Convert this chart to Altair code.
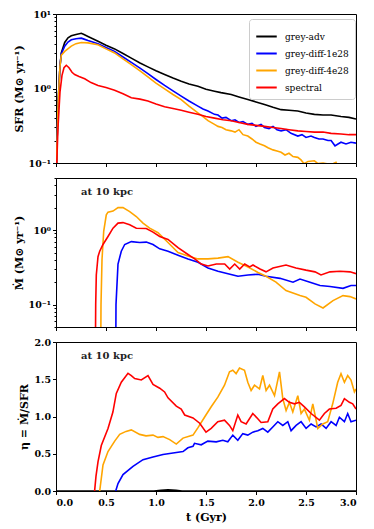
import altair as alt
import pandas as pd

SERIES = ["grey-adv", "grey-diff-1e28", "grey-diff-4e28", "spectral"]
COLORS = ["#000000", "#0000ff", "#ffa500", "#ff0000"]
ANNOT = ["at 10 kpc"]

# ---------------- panel 1 : SFR ----------------
sfr_adv_t = [0, 0.02, 0.04, 0.053, 0.087, 0.12, 0.153, 0.2, 0.253, 0.28, 0.32, 0.42, 0.5, 0.586, 0.67, 0.753, 0.84, 0.919, 1.0, 1.086, 1.17, 1.252, 1.33, 1.419, 1.5, 1.585, 1.65, 1.752, 1.83, 1.918, 2.0, 2.085, 2.17, 2.251, 2.33, 2.418, 2.5, 2.584, 2.67, 2.751, 2.85, 2.93, 3.0]
sfr_adv_v = [0.05, 0.6, 2.0, 3.0, 4.15, 4.8, 5.1, 5.3, 5.5, 5.3, 5.0, 4.3, 3.8, 3.4, 2.95, 2.56, 2.2, 1.95, 1.73, 1.54, 1.38, 1.25, 1.15, 1.07, 0.98, 0.92, 0.88, 0.83, 0.77, 0.71, 0.66, 0.61, 0.56, 0.52, 0.51, 0.50, 0.47, 0.45, 0.44, 0.44, 0.42, 0.41, 0.39]

sfr_d1_t = [0, 0.02, 0.04, 0.053, 0.087, 0.12, 0.153, 0.2, 0.253, 0.28, 0.32, 0.42, 0.5, 0.586, 0.67, 0.753, 0.84, 0.919, 1.0, 1.086, 1.17, 1.252, 1.33, 1.419, 1.47, 1.52, 1.585, 1.62, 1.66, 1.70, 1.752, 1.79, 1.83, 1.87, 1.918, 1.96, 2.0, 2.05, 2.085, 2.13, 2.17, 2.21, 2.251, 2.3, 2.35, 2.418, 2.46, 2.5, 2.55, 2.584, 2.63, 2.67, 2.72, 2.751, 2.79, 2.82, 2.85, 2.9, 2.95, 3.0]
sfr_d1_v = [0.05, 0.6, 2.0, 2.9, 3.7, 4.2, 4.5, 4.65, 4.74, 4.6, 4.4, 4.0, 3.55, 3.15, 2.65, 2.24, 1.88, 1.58, 1.32, 1.1, 0.93, 0.79, 0.68, 0.58, 0.53, 0.50, 0.45, 0.44, 0.40, 0.41, 0.37, 0.38, 0.35, 0.36, 0.33, 0.34, 0.31, 0.33, 0.30, 0.29, 0.31, 0.28, 0.27, 0.28, 0.25, 0.23, 0.24, 0.22, 0.23, 0.22, 0.21, 0.21, 0.20, 0.20, 0.17, 0.18, 0.19, 0.18, 0.19, 0.185]

sfr_d4_t = [0, 0.02, 0.04, 0.053, 0.087, 0.153, 0.2, 0.253, 0.32, 0.42, 0.5, 0.586, 0.67, 0.753, 0.84, 0.919, 1.0, 1.086, 1.17, 1.252, 1.33, 1.419, 1.47, 1.52, 1.585, 1.62, 1.66, 1.70, 1.752, 1.79, 1.83, 1.87, 1.918, 1.96, 2.0, 2.04, 2.085, 2.12, 2.17, 2.21, 2.251, 2.29, 2.33, 2.37, 2.418, 2.45, 2.48, 2.52, 2.584, 2.62, 2.67, 2.72, 2.751, 2.78, 2.8, 2.82, 2.9, 3.0]
sfr_d4_v = [0.05, 0.6, 2.0, 2.8, 3.15, 3.7, 4.0, 4.15, 4.1, 3.86, 3.4, 3.0, 2.5, 2.09, 1.72, 1.43, 1.18, 0.99, 0.83, 0.71, 0.58, 0.47, 0.42, 0.37, 0.33, 0.31, 0.30, 0.28, 0.27, 0.26, 0.28, 0.24, 0.23, 0.21, 0.19, 0.18, 0.17, 0.16, 0.15, 0.145, 0.139, 0.128, 0.135, 0.122, 0.119, 0.11, 0.098, 0.105, 0.107, 0.098, 0.10, 0.097, 0.095, 0.099, 0.102, 0.09, 0.08, 0.07]

sfr_sp_t = [0, 0.02, 0.04, 0.06, 0.08, 0.103, 0.13, 0.16, 0.187, 0.23, 0.287, 0.35, 0.42, 0.5, 0.586, 0.67, 0.753, 0.84, 0.919, 1.0, 1.086, 1.17, 1.252, 1.33, 1.419, 1.5, 1.585, 1.67, 1.752, 1.83, 1.918, 2.0, 2.085, 2.17, 2.251, 2.33, 2.418, 2.5, 2.584, 2.67, 2.751, 2.85, 2.93, 3.0]
sfr_sp_v = [0.05, 0.3, 0.9, 1.5, 1.9, 2.05, 1.9, 1.65, 1.54, 1.45, 1.35, 1.2, 1.1, 1.03, 0.95, 0.85, 0.75, 0.72, 0.68, 0.62, 0.57, 0.54, 0.51, 0.48, 0.45, 0.42, 0.40, 0.38, 0.37, 0.35, 0.33, 0.32, 0.31, 0.30, 0.29, 0.28, 0.27, 0.265, 0.26, 0.26, 0.25, 0.245, 0.24, 0.24]

# ---------------- panel 2 : Mdot at 10 kpc ----------------
md_d1_t = [0.596, 0.6, 0.62, 0.653, 0.687, 0.753, 0.837, 0.903, 0.97, 1.037, 1.12, 1.22, 1.32, 1.42, 1.52, 1.62, 1.72, 1.82, 1.92, 2.02, 2.10, 2.24, 2.37, 2.44, 2.54, 2.64, 2.74, 2.87, 2.95, 3.0]
md_d1_v = [0.01, 0.1, 0.35, 0.52, 0.64, 0.70, 0.68, 0.69, 0.64, 0.56, 0.52, 0.46, 0.41, 0.37, 0.31, 0.28, 0.26, 0.24, 0.25, 0.255, 0.24, 0.225, 0.20, 0.22, 0.20, 0.18, 0.175, 0.165, 0.18, 0.18]

md_d4_t = [0.446, 0.45, 0.46, 0.477, 0.503, 0.52, 0.57, 0.62, 0.67, 0.737, 0.803, 0.87, 0.937, 1.02, 1.12, 1.22, 1.32, 1.42, 1.52, 1.62, 1.72, 1.82, 1.92, 2.02, 2.10, 2.20, 2.30, 2.44, 2.50, 2.59, 2.67, 2.77, 2.87, 2.94, 3.0]
md_d4_v = [0.01, 0.1, 0.4, 0.96, 1.6, 1.74, 1.8, 2.0, 2.0, 1.77, 1.52, 1.24, 1.06, 0.92, 0.68, 0.50, 0.45, 0.41, 0.41, 0.42, 0.44, 0.37, 0.32, 0.27, 0.24, 0.20, 0.154, 0.132, 0.125, 0.102, 0.090, 0.113, 0.132, 0.128, 0.119]

md_sp_t = [0.392, 0.397, 0.403, 0.42, 0.437, 0.47, 0.52, 0.57, 0.62, 0.67, 0.737, 0.803, 0.903, 0.97, 1.037, 1.12, 1.22, 1.32, 1.387, 1.453, 1.52, 1.603, 1.687, 1.737, 1.787, 1.837, 1.887, 1.937, 1.97, 2.04, 2.10, 2.17, 2.30, 2.40, 2.50, 2.59, 2.65, 2.74, 2.84, 2.94, 3.0]
md_sp_v = [0.01, 0.1, 0.25, 0.44, 0.52, 0.64, 0.82, 1.06, 1.24, 1.26, 1.18, 1.06, 1.05, 0.94, 0.82, 0.75, 0.58, 0.47, 0.41, 0.35, 0.33, 0.35, 0.35, 0.30, 0.35, 0.30, 0.35, 0.32, 0.34, 0.30, 0.275, 0.31, 0.34, 0.31, 0.29, 0.275, 0.25, 0.275, 0.28, 0.275, 0.26]

# ---------------- panel 3 : eta at 10 kpc ----------------
eta_adv_t = [0.0, 0.98, 1.05, 1.12, 1.2, 1.26, 3.0]
eta_adv_v = [0.0, 0.0, 0.01, 0.015, 0.01, 0.0, 0.0]

eta_d1_t = [0.597, 0.62, 0.67, 0.77, 0.87, 0.97, 1.07, 1.17, 1.27, 1.319, 1.37, 1.385, 1.452, 1.518, 1.602, 1.668, 1.718, 1.768, 1.818, 1.868, 1.918, 1.968, 2.018, 2.068, 2.118, 2.168, 2.218, 2.268, 2.318, 2.351, 2.401, 2.451, 2.501, 2.551, 2.601, 2.651, 2.701, 2.751, 2.801, 2.834, 2.884, 2.917, 2.95, 3.0]
eta_d1_v = [0.0, 0.10, 0.22, 0.33, 0.42, 0.456, 0.49, 0.51, 0.53, 0.58, 0.60, 0.64, 0.62, 0.67, 0.66, 0.68, 0.66, 0.75, 0.68, 0.77, 0.75, 0.79, 0.81, 0.84, 0.79, 0.86, 0.93, 0.88, 0.93, 0.81, 0.88, 0.93, 0.84, 0.90, 0.86, 0.90, 0.84, 0.93, 0.88, 0.99, 0.93, 1.04, 0.93, 0.95]

eta_d4_t = [0.437, 0.47, 0.52, 0.587, 0.637, 0.70, 0.753, 0.837, 0.90, 0.97, 1.02, 1.07, 1.137, 1.203, 1.27, 1.37, 1.42, 1.485, 1.552, 1.618, 1.685, 1.735, 1.768, 1.801, 1.835, 1.885, 1.918, 1.951, 1.985, 2.035, 2.068, 2.101, 2.135, 2.185, 2.235, 2.268, 2.301, 2.334, 2.368, 2.418, 2.451, 2.484, 2.534, 2.568, 2.618, 2.668, 2.717, 2.767, 2.817, 2.85, 2.884, 2.917, 2.95, 2.984, 3.0]
eta_d4_v = [0.0, 0.35, 0.53, 0.67, 0.76, 0.80, 0.82, 0.76, 0.74, 0.75, 0.72, 0.73, 0.69, 0.63, 0.71, 0.75, 0.85, 0.99, 1.13, 1.26, 1.42, 1.60, 1.62, 1.575, 1.65, 1.62, 1.46, 1.35, 1.42, 1.37, 1.55, 1.35, 1.42, 1.28, 1.60, 1.24, 1.08, 1.19, 1.06, 1.28, 1.04, 1.10, 0.95, 1.17, 0.84, 0.90, 0.93, 1.17, 1.46, 1.575, 1.46, 1.55, 1.49, 1.33, 1.37]

eta_sp_t = [0.386, 0.40, 0.42, 0.453, 0.52, 0.569, 0.603, 0.653, 0.72, 0.753, 0.787, 0.853, 0.92, 0.97, 1.037, 1.086, 1.12, 1.203, 1.252, 1.287, 1.37, 1.437, 1.5, 1.552, 1.618, 1.685, 1.735, 1.768, 1.818, 1.851, 1.901, 1.968, 2.018, 2.051, 2.118, 2.168, 2.218, 2.284, 2.334, 2.384, 2.434, 2.484, 2.551, 2.634, 2.684, 2.734, 2.801, 2.85, 2.884, 2.934, 2.967, 3.0]
eta_sp_v = [0.0, 0.2, 0.39, 0.61, 0.84, 1.06, 1.31, 1.46, 1.58, 1.55, 1.51, 1.49, 1.55, 1.43, 1.38, 1.33, 1.25, 1.14, 1.10, 1.02, 0.98, 0.91, 0.79, 0.84, 0.93, 0.95, 0.88, 0.81, 1.02, 0.93, 0.90, 1.04, 0.97, 0.92, 0.93, 1.10, 1.17, 1.24, 1.19, 1.17, 1.19, 1.13, 1.04, 0.95, 1.04, 1.10, 1.11, 1.15, 1.24, 1.19, 1.17, 1.10]

X_TICKS = [0.0, 0.5, 1.0, 1.5, 2.0, 2.5, 3.0]
Y1_TICKS = [0.1, 0.2, 0.3, 0.4, 0.5, 0.6, 0.7, 0.8, 0.9, 1, 2, 3, 4, 5, 6, 7, 8, 9, 10]
Y2_TICKS = [0.05, 0.06, 0.07, 0.08, 0.09, 0.1, 0.2, 0.3, 0.4, 0.5, 0.6, 0.7, 0.8, 0.9, 1, 2, 3, 4, 5]
Y3_TICKS = [0.0, 0.5, 1.0, 1.5, 2.0]


def frame(pairs):
    rows = []
    for name, ts, vs in pairs:
        for t, v in zip(ts, vs):
            rows.append({"t": t, "v": v, "series": name})
    return pd.DataFrame(rows)


df1 = frame([(SERIES[0], sfr_adv_t, sfr_adv_v), (SERIES[1], sfr_d1_t, sfr_d1_v),
             (SERIES[2], sfr_d4_t, sfr_d4_v), (SERIES[3], sfr_sp_t, sfr_sp_v)])
df2 = frame([(SERIES[1], md_d1_t, md_d1_v), (SERIES[2], md_d4_t, md_d4_v),
             (SERIES[3], md_sp_t, md_sp_v)])
df3 = frame([(SERIES[0], eta_adv_t, eta_adv_v), (SERIES[1], eta_d1_t, eta_d1_v),
             (SERIES[2], eta_d4_t, eta_d4_v), (SERIES[3], eta_sp_t, eta_sp_v)])

FONT = "DejaVu Serif"
W, H = 300, 149

LOG_LABELS = ("datum.value == 0.1 ? '10⁻¹' : datum.value == 1 ? '10⁰' : "
              "datum.value == 10 ? '10¹' : ''")
MAJOR_TEST = "datum.value == 0.1 || datum.value == 1 || datum.value == 10"
log_tick = {"condition": {"test": MAJOR_TEST, "value": 3.5}, "value": 2}

color_scale = alt.Scale(domain=SERIES, range=COLORS)


def xenc(labels):
    if labels:
        ax = alt.Axis(values=X_TICKS, format=".1f", title="t (Gyr)", tickSize=3.5, labelPadding=3)
    else:
        ax = alt.Axis(values=X_TICKS, labels=False, title=None, tickSize=3.5)
    return alt.X("t:Q", scale=alt.Scale(domain=[0, 3], nice=False, zero=False), axis=ax)


def lines(df, y, legend, labels):
    return alt.Chart(df).mark_line(strokeWidth=1.6, clip=True).encode(
        x=xenc(labels),
        y=y,
        color=alt.Color("series:N", scale=color_scale, legend=legend),
    ).properties(width=W, height=H)


legend1 = alt.Legend(
    title=None, orient="none", legendX=193, legendY=5,
    fillColor="white", strokeColor="#cccccc", cornerRadius=3, padding=6,
    symbolType="stroke", symbolStrokeWidth=2, symbolSize=420,
    labelFont=FONT, labelFontSize=9, labelOffset=7, rowPadding=-5,
)

y1 = alt.Y("v:Q", scale=alt.Scale(type="log", domain=[0.1, 10], nice=False),
           axis=alt.Axis(values=Y1_TICKS, labelExpr=LOG_LABELS, tickSize=log_tick,
                         title="SFR (M⊙ yr⁻¹)", labelPadding=2))
y2 = alt.Y("v:Q", scale=alt.Scale(type="log", domain=[0.05, 5], nice=False),
           axis=alt.Axis(values=Y2_TICKS, labelExpr=LOG_LABELS, tickSize=log_tick,
                         title="Ṁ (M⊙ yr⁻¹)", labelPadding=2))
y3 = alt.Y("v:Q", scale=alt.Scale(domain=[0, 2], nice=False, zero=False),
           axis=alt.Axis(values=Y3_TICKS, format=".1f", tickSize=3.5,
                         title="η = Ṁ/SFR", labelPadding=2))


def annot():
    return alt.Chart(pd.DataFrame({"label": ANNOT})).mark_text(
        align="left", baseline="middle", font=FONT, fontSize=10, fontWeight="bold", color="#222222"
    ).encode(x=alt.value(25), y=alt.value(14), text="label:N")


p1 = lines(df1, y1, legend1, False)
p2 = alt.layer(lines(df2, y2, None, False), annot())
p3 = alt.layer(lines(df3, y3, None, True), annot())

chart = alt.vconcat(p1, p2, p3, spacing=15, bounds="flush").resolve_legend(color="independent").properties(
    padding={"left": 4, "top": 0, "right": 8, "bottom": 4}
).configure_view(stroke="black", strokeWidth=1).configure_axis(
    grid=False, domainColor="black", tickColor="black", labelColor="black", titleColor="black",
    labelFont=FONT, labelFontSize=9.5, labelFontWeight="bold",
    titleFont=FONT, titleFontSize=11, titleFontWeight="bold", titlePadding=4,
    domainWidth=1, tickWidth=1,
)

chart.save("out.html", embed_options={"renderer": "svg", "actions": False})
